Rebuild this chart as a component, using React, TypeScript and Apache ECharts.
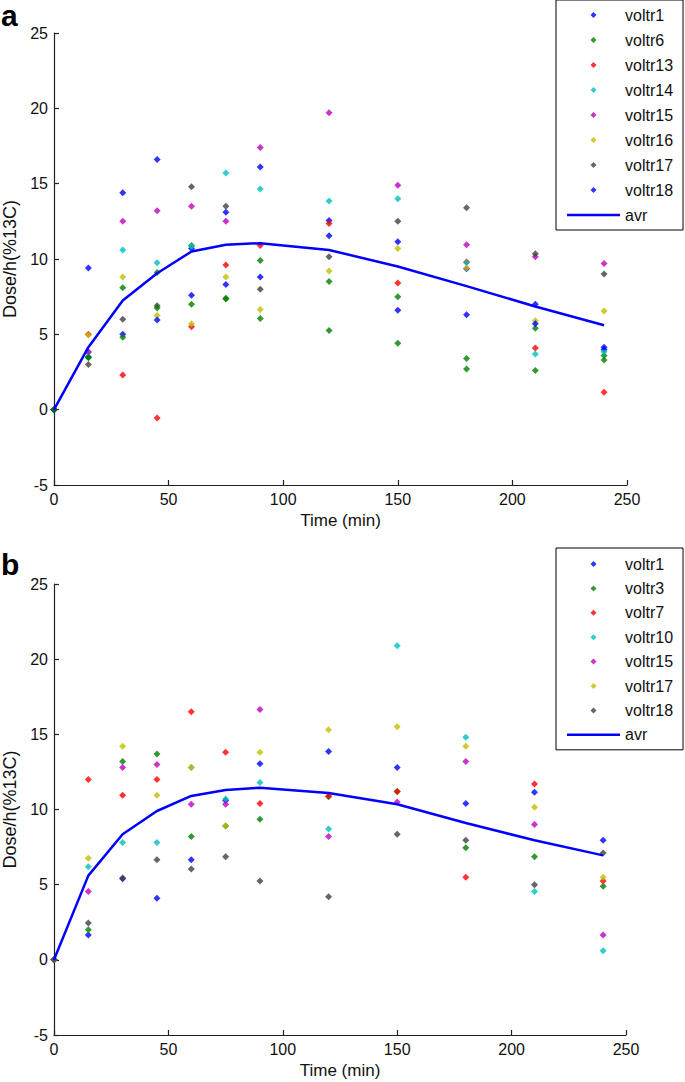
import React, { useEffect, useRef } from "react";
import * as echarts from "echarts";

// ---------- data ----------
const times = [0, 15, 30, 45, 60, 75, 90, 120, 150, 180, 210, 240];
const xTicks = [0, 50, 100, 150, 200, 250];
const yTicks = [-5, 0, 5, 10, 15, 20, 25];

// Panel a
const aNames = ["voltr1", "voltr6", "voltr13", "voltr14", "voltr15", "voltr16", "voltr17", "voltr18"];
const aVoltr1 = [0, 3.5, 14.4, 16.6, 10.7, 13.1, 16.1, 12.55, 11.15, 9.35, 7.0, 4.0];
const aVoltr6 = [0, 3.5, 8.1, 9.1, 10.9, 7.4, 9.9, 8.5, 7.5, 3.4, 5.4, 3.6];
const aVoltr13 = [0, 5.0, 2.3, -0.55, 5.5, 9.6, 10.9, 12.35, 8.4, 9.8, 4.1, 1.15];
const aVoltr14 = [0, 3.8, 10.6, 9.75, 10.85, 15.7, 14.65, 13.85, 14.0, 9.75, 3.7, 3.85];
const aVoltr15 = [0, 3.85, 12.5, 13.2, 13.5, 12.5, 17.4, 19.7, 14.9, 10.95, 10.15, 9.7];
const aVoltr16 = [0, 4.95, 8.8, 6.25, 5.7, 8.8, 6.65, 9.2, 10.7, 9.4, 5.9, 6.55];
const aVoltr17 = [0, 3.0, 6.0, 6.9, 14.8, 13.5, 8.0, 10.15, 12.5, 13.4, 10.35, 9.0];
const aVoltr18 = [0, 9.4, 5.0, 5.95, 7.6, 8.3, 8.8, 11.55, 6.6, 6.3, 5.7, 4.15];
const aExtra = [0, 3.45, 4.8, 6.75, 7.0, 7.35, 6.05, 5.25, 4.4, 2.7, 2.6, 3.3];
const aAvr = [0, 4.15, 7.25, 9.05, 10.5, 10.95, 11.05, 10.6, 9.5, 8.2, 6.85, 5.6];

// Panel b
const bNames = ["voltr1", "voltr3", "voltr7", "voltr10", "voltr15", "voltr17", "voltr18"];
const bVoltr1 = [0, 1.65, 5.4, 4.1, 6.65, 10.6, 13.05, 13.85, 12.8, 10.4, 11.15, 7.95];
const bVoltr3 = [0, 2.0, 13.2, 13.7, 8.2, 8.9, 9.35, 10.85, 11.2, 7.45, 6.85, 4.9];
const bVoltr7 = [0, 12.0, 10.95, 12.0, 16.5, 13.8, 10.4, 10.9, 11.2, 5.5, 11.7, 5.25];
const bVoltr10 = [0, 6.2, 7.8, 7.8, 12.8, 10.7, 11.8, 8.7, 20.9, 14.8, 4.55, 0.6];
const bVoltr15 = [0, 4.55, 12.8, 13.0, 10.35, 10.35, 16.65, 8.2, 10.5, 13.2, 9.0, 1.65];
const bVoltr17 = [0, 6.75, 14.2, 10.95, 12.8, 8.9, 13.8, 15.3, 15.5, 14.2, 10.15, 5.5];
const bVoltr18 = [0, 2.45, 5.45, 6.65, 6.05, 6.85, 5.25, 4.2, 8.35, 7.95, 5.0, 7.1];
const bAvr = [0, 5.6, 8.35, 9.9, 10.9, 11.3, 11.45, 11.1, 10.35, 9.1, 7.95, 6.95];

const aValues = [aVoltr1, aVoltr6, aVoltr13, aVoltr14, aVoltr15, aVoltr16, aVoltr17, aVoltr18];
const bValues = [bVoltr1, bVoltr3, bVoltr7, bVoltr10, bVoltr15, bVoltr17, bVoltr18];

// ---------- style ----------
const palette = ["#0000ff", "#008000", "#ff0000", "#00bfbf", "#bf00bf", "#bfbf00", "#404040"];
const FONT = "'Liberation Sans', Arial, Helvetica, sans-serif";
const AXIS_COLOR = "#222";
const DIAMOND_ICON = "path://M5 0L10 5L5 10L0 5Z";
const LINE_ICON = "path://M0 0H106V5H0Z";

function pts(vals: number[]) {
  return times.map((t, i) => [t, vals[i]]);
}

function axisPair(idx: number) {
  const x = {
    type: "value",
    gridIndex: idx,
    min: 0,
    max: 250,
    interval: 50,
    name: "Time (min)",
    nameLocation: "middle",
    nameGap: 27,
    nameTextStyle: { fontSize: 17, color: "#111", fontFamily: FONT },
    axisLine: { show: true, onZero: false, lineStyle: { color: AXIS_COLOR, width: 1.2 } },
    axisTick: { show: true, inside: true, length: 5, lineStyle: { color: AXIS_COLOR, width: 1.2 } },
    axisLabel: {
      margin: 6,
      fontSize: 16,
      color: "#111",
      fontFamily: FONT,
      formatter: (v: number) => (xTicks.includes(v) ? String(v) : ""),
    },
    splitLine: { show: false },
  };
  const y = {
    type: "value",
    gridIndex: idx,
    min: -5,
    max: 25,
    interval: 5,
    name: "Dose/h(%13C)",
    nameLocation: "middle",
    nameGap: 34,
    nameTextStyle: { fontSize: 18, color: "#111", fontFamily: FONT },
    axisLine: { show: true, onZero: false, lineStyle: { color: AXIS_COLOR, width: 1.2 } },
    axisTick: { show: true, inside: true, length: 5, lineStyle: { color: AXIS_COLOR, width: 1.2 } },
    axisLabel: {
      margin: 6,
      fontSize: 16,
      color: "#111",
      fontFamily: FONT,
      formatter: (v: number) => (yTicks.includes(v) ? String(v) : ""),
    },
    splitLine: { show: false },
  };
  return { x, y };
}

function scatterSeries(prefix: string, name: string, vals: number[], color: string, idx: number) {
  return {
    type: "scatter",
    name: prefix + name,
    xAxisIndex: idx,
    yAxisIndex: idx,
    data: pts(vals),
    symbol: "diamond",
    symbolSize: 7,
    itemStyle: { color },
    silent: true,
  };
}

function avrSeries(prefix: string, vals: number[], idx: number) {
  return {
    type: "line",
    name: prefix + "avr",
    xAxisIndex: idx,
    yAxisIndex: idx,
    data: pts(vals),
    symbol: "none",
    color: "#0000ff",
    lineStyle: { color: "#0000ff", width: 2.5 },
    silent: true,
    z: 3,
  };
}

function legendFor(prefix: string, names: string[], top: number, gap: number, pad: number[]) {
  return {
    orient: "vertical",
    left: 556,
    top,
    selectedMode: false,
    itemWidth: 53,
    itemHeight: 6,
    itemGap: gap,
    padding: pad,
    symbolKeepAspect: true,
    borderColor: "#000",
    borderWidth: 1,
    backgroundColor: "#fff",
    textStyle: { fontSize: 16, color: "#111", fontFamily: FONT, lineHeight: 18 },
    formatter: (n: string) => n.slice(prefix.length),
    data: [
      ...names.map((n) => ({ name: prefix + n, icon: DIAMOND_ICON, symbolKeepAspect: true })),
      {
        name: prefix + "avr",
        icon: LINE_ICON,
        symbolKeepAspect: true,
        itemStyle: { color: "#0000ff" },
      },
    ],
  };
}

export default function App() {
  const ref = useRef<HTMLDivElement>(null);

  useEffect(() => {
    if (!ref.current) return;
    const chart = echarts.init(ref.current, undefined, { renderer: "svg" });
    const a = axisPair(0);
    const b = axisPair(1);

    const series: any[] = [];
    aNames.forEach((n, i) => series.push(scatterSeries("a:", n, aValues[i], palette[i % palette.length], 0)));
    series.push(scatterSeries("a:", "extra", aExtra, palette[1], 0));
    series.push(avrSeries("a:", aAvr, 0));
    bNames.forEach((n, i) => series.push(scatterSeries("b:", n, bValues[i], palette[i % palette.length], 1)));
    series.push(avrSeries("b:", bAvr, 1));

    chart.setOption({
      animation: false,
      backgroundColor: "#fff",
      grid: [
        { left: 54, top: 33, width: 573, height: 452, outerBoundsMode: "none", containLabel: false },
        { left: 54, top: 584, width: 572, height: 451, outerBoundsMode: "none", containLabel: false },
      ],
      xAxis: [a.x, b.x],
      yAxis: [a.y, b.y],
      legend: [
        legendFor("a:", aNames, 0, 7, [6, 10, 6, 11]),
        legendFor("b:", bNames, 548, 6.4, [7, 10, 6, 11]),
      ],
      graphic: [
        {
          type: "text",
          left: 1,
          top: 0,
          style: { text: "a", font: `bold 30px ${FONT}`, fill: "#000" },
        },
        {
          type: "text",
          left: 1,
          top: 549,
          style: { text: "b", font: `bold 30px ${FONT}`, fill: "#000" },
        },
      ],
      series,
    });
    return () => chart.dispose();
  }, []);

  return (
    <div
      ref={ref}
      style={{ position: "absolute", left: 0, top: 0, width: 685, height: 1082, background: "#fff" }}
    />
  );
}
